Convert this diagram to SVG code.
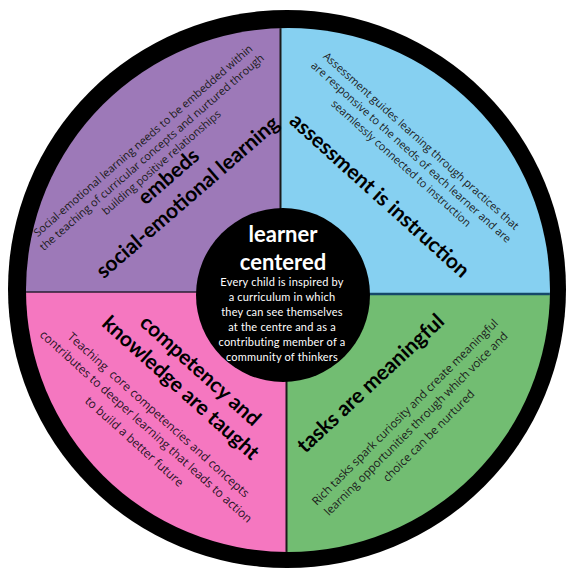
<svg xmlns="http://www.w3.org/2000/svg" width="567" height="570" viewBox="0 0 567 570">
  <defs>
    <clipPath id="disk"><circle cx="288" cy="290" r="262"/></clipPath>
    <style>
      .small { font-family: "Open Sans", "Liberation Sans", sans-serif; font-size: 11px; fill: #1c1c1c; text-anchor: middle; }
      .head { font-family: Lato, "Liberation Sans", sans-serif; font-weight: 700; font-size: 21px; fill: #000; text-anchor: middle; }
      .ctitle { font-family: Lato, "Liberation Sans", sans-serif; font-weight: 700; font-size: 22px; fill: #fff; text-anchor: middle; }
      .ctext { font-family: Lato, "Liberation Sans", sans-serif; font-size: 11px; fill: #fff; text-anchor: middle; letter-spacing: 0.2px; }
    </style>
  </defs>
  <rect width="567" height="570" fill="#fff"/>
  <circle cx="287" cy="289" r="279" fill="#000"/>
  <g clip-path="url(#disk)">
    <rect id="bg-purple" x="0" y="0" width="281" height="292" fill="#9d79b8"/>
    <rect id="bg-blue" x="281" y="0" width="286" height="294" fill="#86d0f1"/>
    <rect id="bg-pink" x="0" y="292" width="287" height="278" fill="#f577c0"/>
    <rect id="bg-green" x="287" y="294" width="280" height="276" fill="#72bd72"/>
    <g id="dividers" fill="none">
      <line x1="280.5" y1="20" x2="280.5" y2="294" stroke="#1a1a1a" stroke-width="2"/>
      <line x1="286.5" y1="292" x2="286.5" y2="560" stroke="#1a1a1a" stroke-width="2"/>
      <line x1="20" y1="292" x2="287" y2="292" stroke="#2a1f33" stroke-width="1.5"/>
      <line x1="281" y1="294" x2="560" y2="294" stroke="#16486a" stroke-width="2.5"/>
    </g>
  </g>

  <g id="q-social-emotional" transform="translate(165,165) rotate(-41)">
    <text class="small" x="-0.5" y="-29">Social-emotional learning needs to be embedded within</text>
    <text class="small" x="-1.5" y="-14.5">the teaching of curricular concepts and nurtured through</text>
    <text class="small" x="-1" y="-0.5">building positive relationships</text>
    <text class="head" x="-5" y="18">embeds</text>
    <text class="head" x="-4" y="46">social-emotional learning</text>
  </g>

  <g id="q-assessment" transform="translate(400,160) rotate(42)">
    <text class="small" x="3" y="-24.5">Assessment guides learning through practices that</text>
    <text class="small" x="3" y="-9.5">are responsive to the needs of each learner and are</text>
    <text class="small" x="3" y="5.5">seamlessly connected to instruction</text>
    <text class="head" x="8.5" y="47">assessment is instruction</text>
  </g>

  <g id="q-competency" transform="translate(170,420) rotate(42)">
    <text class="head" x="-10.5" y="-50">competency and</text>
    <text class="head" x="-13.5" y="-24">knowledge are taught</text>
    <text class="small" x="-12" y="8" style="font-size:12px;fill:#2a1426" xml:space="preserve">Teaching  core competencies and concepts</text>
    <text class="small" x="-13.5" y="25" style="font-size:12px;fill:#2a1426">contributes to deeper learning that leads to action</text>
    <text class="small" x="-12" y="44" style="font-size:12px;fill:#2a1426">to build a better future</text>
  </g>

  <g id="q-tasks">
    <text class="head" transform="translate(375.5,388.5) rotate(-43)" x="0" y="0">tasks are meaningful</text>
    <g transform="translate(400,410) rotate(-45)">
      <text class="small" x="2" y="9" style="font-size:11.5px">Rich tasks spark curiosity and create meaningful</text>
      <text class="small" x="1.5" y="25" style="font-size:11.5px">learning opportunities through which voice and</text>
      <text class="small" x="2" y="42.5" style="font-size:11.5px">choice can be nurtured</text>
    </g>
  </g>

  <g id="center">
    <circle cx="283" cy="295" r="87" fill="#000"/>
    <text class="ctitle" x="283" y="242">learner</text>
    <text class="ctitle" x="283" y="270">centered</text>
    <text class="ctext" x="282" y="286">Every child is inspired by</text>
    <text class="ctext" x="282" y="301">a curriculum in which</text>
    <text class="ctext" x="282" y="316">they can see themselves</text>
    <text class="ctext" x="282" y="331">at the centre and as a</text>
    <text class="ctext" x="282" y="346">contributing member of a</text>
    <text class="ctext" x="282" y="361">community of thinkers</text>
  </g>
</svg>
